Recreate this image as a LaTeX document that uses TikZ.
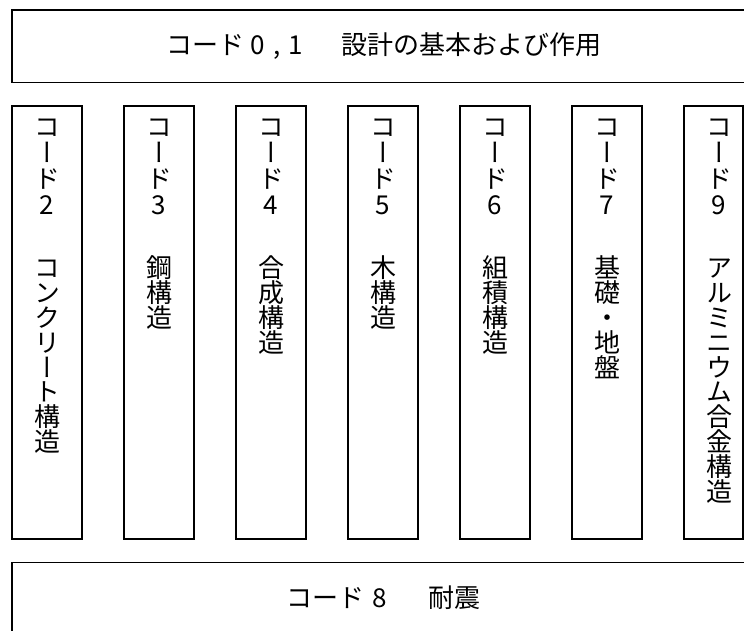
\documentclass[tikz,border=0pt]{standalone}
\usepackage{fontspec}
\newfontfamily\jp{Noto Sans CJK JP}
\newfontfamily\jpv[RawFeature=+vert]{Noto Sans CJK JP}
\tikzset{
  bigbox/.style={draw=black, line width=1.8pt},
  colbox/.style={draw=black, line width=1.1pt},
  vch/.style={inner sep=0pt, font=\jpv\fontsize{26}{26}\selectfont, text height=0.88em, text depth=0.12em},
  htext/.style={inner sep=0pt, font=\jp\fontsize{26}{26}\selectfont},
}
\newcommand{\vcolumn}[4]{%
  \foreach \ch [count=\i from 0] in {#3} \node[vch] (#1a\i) at (#2,{133+26*\i}) {\ch};
  \foreach \ch [count=\i from 0] in {#4} \node[vch] (#1b\i) at (#2,{274+24.8*\i}) {\ch};
}
\begin{document}
\begin{tikzpicture}[x=1pt,y=-1pt]
\useasboundingbox (0,0) rectangle (744,630);
\clip (0,0) rectangle (744,630);
\fill[white] (0,0) rectangle (744,630);
% top and bottom boxes
\draw[bigbox] (12,10) rectangle (760,82.5);
\draw[bigbox] (12,562.5) rectangle (760,640);
\node[htext] (title) at (384,46) {コード\hspace{0.25em}0\hspace{0.3em},\hspace{0.3em}1\hspace{1.5em}設計の基本および作用};
\node[htext] (quake) at (383.5,598) {コード\hspace{0.3em}8\hspace{1.6em}耐震};
% columns
\foreach \k in {0,...,5} \draw[colbox] ({12+112*\k},106) rectangle ({82+112*\k},539);
\draw[colbox] (684,106) rectangle (743,539);
\vcolumn{c2}{47}{コ,ー,ド,2}{コ,ン,ク,リ,ー,ト,構,造}
\vcolumn{c3}{159}{コ,ー,ド,3}{鋼,構,造}
\vcolumn{c4}{271}{コ,ー,ド,4}{合,成,構,造}
\vcolumn{c5}{383}{コ,ー,ド,5}{木,構,造}
\vcolumn{c6}{495}{コ,ー,ド,6}{組,積,構,造}
\vcolumn{c7}{607}{コ,ー,ド,7}{基,礎,・,地,盤}
\vcolumn{c9}{719}{コ,ー,ド,9}{ア,ル,ミ,ニ,ウ,ム,合,金,構,造}
\end{tikzpicture}
\end{document}
